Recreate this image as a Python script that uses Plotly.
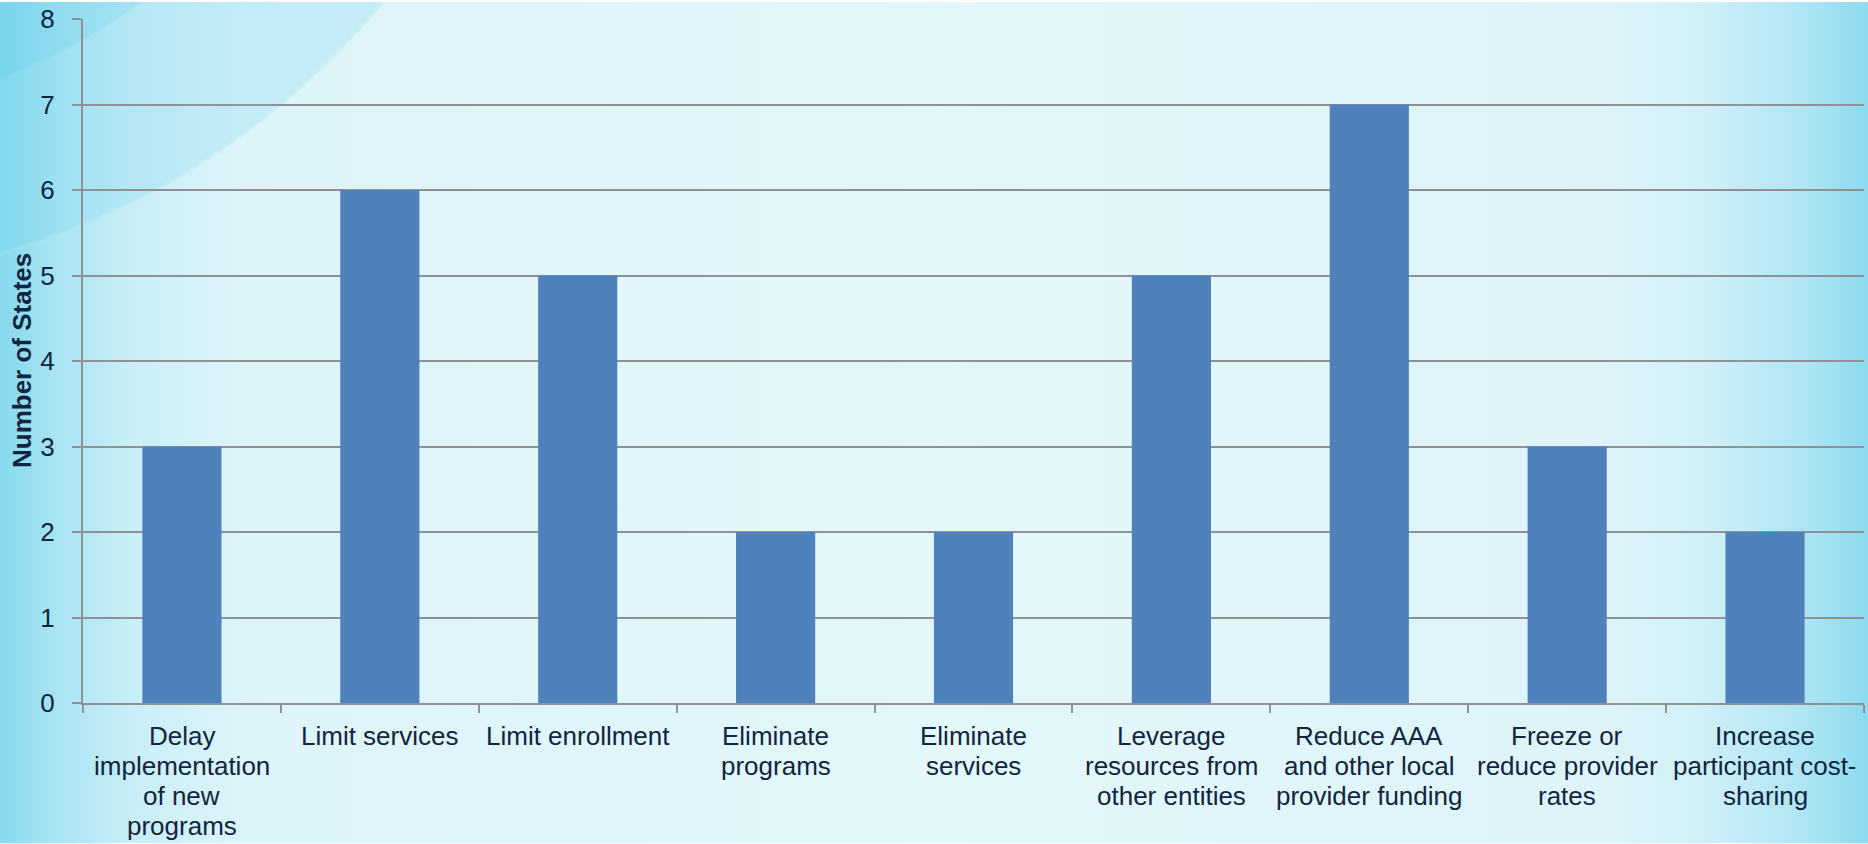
import base64
import plotly.graph_objects as go

# ---- data ----
categories = [
    "Delay implementation of new programs",
    "Limit services",
    "Limit enrollment",
    "Eliminate programs",
    "Eliminate services",
    "Leverage resources from other entities",
    "Reduce AAA and other local provider funding",
    "Freeze or reduce provider rates",
    "Increase participant cost-sharing",
]
label_lines = [
    ["Delay", "implementation", "of new", "programs"],
    ["Limit services"],
    ["Limit enrollment"],
    ["Eliminate", "programs"],
    ["Eliminate", "services"],
    ["Leverage", "resources from", "other entities"],
    ["Reduce AAA", "and other local", "provider funding"],
    ["Freeze or", "reduce provider", "rates"],
    ["Increase", "participant cost-", "sharing"],
]
values = [3, 6, 5, 2, 2, 5, 7, 3, 2]
y_ticks = [0, 1, 2, 3, 4, 5, 6, 7, 8]
y_title = "Number of States"

# ---- styling ----
W, H = 1868, 844
ML, MR, MT, MB = 83, 4, 17, 141
TEXT = "#10253F"
GRID = "#8E9196"
BAR = "#4F81BD"
FONT = "Liberation Sans, Arial, sans-serif"

svg = f"""<svg xmlns='http://www.w3.org/2000/svg' width='{W}' height='{H}' viewBox='0 0 {W} {H}' preserveAspectRatio='none'>
<defs>
<linearGradient id='g' x1='0' x2='1' y1='0' y2='0'>
<stop offset='0' stop-color='#86D9EE'/>
<stop offset='0.03' stop-color='#A9E4F3'/>
<stop offset='0.07' stop-color='#C8EEF7'/>
<stop offset='0.13' stop-color='#DDF4F9'/>
<stop offset='0.5' stop-color='#E4F7FB'/>
<stop offset='0.857' stop-color='#DEF4F9'/>
<stop offset='0.91' stop-color='#D0F0F8'/>
<stop offset='0.964' stop-color='#B0E6F4'/>
<stop offset='1' stop-color='#8CDBEF'/>
</linearGradient>
</defs>
<rect x='0' y='0' width='{W}' height='{H}' fill='url(#g)'/>
<circle cx='-218' cy='-495' r='780' fill='#6FD0EC' fill-opacity='0.22'/>
<circle cx='-218' cy='-495' r='779' fill='none' stroke='#FFFFFF' stroke-opacity='0.15' stroke-width='3'/>
<circle cx='-218' cy='-495' r='612' fill='#5FCBEA' fill-opacity='0.2'/>
</svg>"""
bg_src = "data:image/svg+xml;base64," + base64.b64encode(svg.encode()).decode()

pw = W - ML - MR
ph = H - MT - MB

fig = go.Figure()
fig.add_trace(go.Bar(
    x=categories, y=values, marker_color=BAR,
    marker_line_width=0, hoverinfo="x+y",
))

annotations = []
for cat, lines in zip(categories, label_lines):
    for i, line in enumerate(lines):
        annotations.append(dict(
            x=cat, xref="x", y=0, yref="paper", yanchor="top", xanchor="center",
            yshift=-16 - 30 * i, text=line, showarrow=False,
            font=dict(family=FONT, size=26, color=TEXT),
        ))
annotations.append(dict(
    x=0, xref="paper", y=0.5, yref="paper", xanchor="center", yanchor="middle",
    xshift=-(ML - 22), text=f"<b>{y_title}</b>", textangle=-90, showarrow=False,
    font=dict(family=FONT, size=26, color=TEXT),
))

fig.update_layout(
    width=W, height=H, autosize=False,
    margin=dict(l=ML, r=MR, t=MT, b=MB, pad=0),
    paper_bgcolor="rgba(0,0,0,0)", plot_bgcolor="rgba(0,0,0,0)",
    bargap=0.6, showlegend=False,
    font=dict(family=FONT, size=26, color=TEXT),
    annotations=annotations,
    images=[dict(
        source=bg_src, xref="paper", yref="paper",
        x=-ML / pw, y=1 + MT / ph, sizex=W / pw, sizey=H / ph,
        xanchor="left", yanchor="top", sizing="stretch", layer="below",
    )],
    xaxis=dict(
        type="category", range=[-0.5, len(categories) - 0.5],
        showticklabels=False, tickson="boundaries", ticks="outside",
        ticklen=8, tickwidth=2, tickcolor=GRID,
        showline=True, linecolor=GRID, linewidth=2, showgrid=False,
        fixedrange=True,
    ),
    yaxis=dict(
        range=[0, 8], tickvals=y_ticks, ticks="outside", ticklen=9,
        tickwidth=2, tickcolor=GRID, showline=True, linecolor=GRID,
        linewidth=2, showgrid=True, gridcolor=GRID, gridwidth=2,
        zeroline=False, ticklabelstandoff=12,
        tickfont=dict(family=FONT, size=26, color=TEXT),
        fixedrange=True,
    ),
)

fig.write_html("out.html", config={"displayModeBar": False})
